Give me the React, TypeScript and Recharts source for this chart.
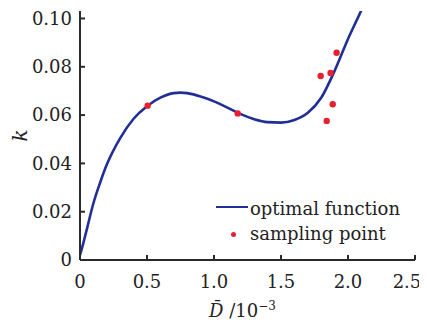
import React from 'react';
import { ComposedChart, Line, Scatter, XAxis, YAxis, Legend } from 'recharts';

const curveX = [0, 0.025, 0.05, 0.1, 0.15, 0.2, 0.3, 0.4, 0.5, 0.6, 0.7, 0.75, 0.8, 0.9, 1.0, 1.1, 1.2, 1.3, 1.4, 1.5, 1.6, 1.7, 1.8, 1.9, 2.0, 2.1, 2.15];
const curveK = [0.002, 0.007, 0.0125, 0.0235, 0.032, 0.0395, 0.0505, 0.0585, 0.0637, 0.0672, 0.0691, 0.0693, 0.0691, 0.0677, 0.0657, 0.0631, 0.0604, 0.0583, 0.0571, 0.0569, 0.058, 0.061, 0.0672, 0.0783, 0.0915, 0.1035, 0.110];

const sampleX = [0.505, 1.177, 1.796, 1.841, 1.87, 1.886, 1.915];
const sampleK = [0.0639, 0.0607, 0.0762, 0.0576, 0.0774, 0.0645, 0.0858];

const xTicks = [0, 0.5, 1.0, 1.5, 2.0, 2.5];
const yTicks = [0, 0.02, 0.04, 0.06, 0.08, 0.10];

const seriesNames = ['optimal function', 'sampling point'];

const curveData = curveX.map((x, i) => ({ x, k: curveK[i] }));
const sampleData = sampleX.map((x, i) => ({ x, k: sampleK[i] }));

const FONT = '"DejaVu Serif", "Liberation Serif", serif';
const AXIS = '#2a2a2a';
const BLUE = '#1f2f96';
const RED = '#e8202e';
const CHART_W = 419;

const XLabel = (props: any) => {
  const vb = props.viewBox || {};
  const cx = vb.x + vb.width / 2 - 5;
  const y = vb.y + 57;
  return (
    <text x={cx} y={y} textAnchor="middle" fontFamily={FONT} fontSize={18} fill="#222">
      <tspan fontStyle="italic">{'D\u0304'}</tspan>
      <tspan> /10</tspan>
      <tspan dy={-7} fontSize={12}>{'\u22123'}</tspan>
    </text>
  );
};

const YLabel = (props: any) => {
  const vb = props.viewBox || {};
  const x = vb.x + 12;
  const y = vb.y + vb.height / 2;
  return (
    <text x={x} y={y} textAnchor="middle" fontFamily={FONT} fontSize={20} fontStyle="italic" fill="#222" transform={`rotate(-90 ${x} ${y})`} dominantBaseline="central">
      k
    </text>
  );
};

const XTick = (props: any) => {
  const { x, y, payload } = props;
  const v = payload.value as number;
  const label = v === 0 ? '0' : v.toFixed(1);
  const tx = Math.min(x, CHART_W - 20);
  return (
    <text x={tx} y={y + 13} textAnchor="middle" fontFamily={FONT} fontSize={18} fill="#222">
      {label}
    </text>
  );
};

const LegendContent = () => (
  <div style={{ fontFamily: FONT, fontSize: 18, color: '#222', lineHeight: '25px', whiteSpace: 'nowrap' }}>
    <div style={{ display: 'flex', alignItems: 'center' }}>
      <div style={{ width: 32, height: 2.5, background: BLUE, marginRight: 2, marginTop: -3 }} />
      <span>{seriesNames[0]}</span>
    </div>
    <div style={{ display: 'flex', alignItems: 'center' }}>
      <div style={{ width: 34, display: 'flex', justifyContent: 'center' }}>
        <div style={{ width: 5, height: 5, borderRadius: 3, background: RED, marginTop: 1 }} />
      </div>
      <span>{seriesNames[1]}</span>
    </div>
  </div>
);

const tickStyle = { fontFamily: FONT, fontSize: 18, fill: '#222' };

export default function App() {
  return (
    <div style={{ fontFamily: FONT }}>
      <ComposedChart width={CHART_W} height={316} margin={{ top: 3, right: 12, left: 0, bottom: 0 }} style={{ fontFamily: FONT }}>
        <XAxis
          dataKey="x"
          type="number"
          domain={[0, 2.5]}
          ticks={xTicks}
          allowDataOverflow
          height={64}
          tickSize={-5}
          tickMargin={20}
          tick={<XTick />}
          axisLine={{ stroke: AXIS, strokeWidth: 2 }}
          tickLine={{ stroke: AXIS, strokeWidth: 2 }}
          label={<XLabel />}
        />
        <XAxis
          xAxisId="top"
          orientation="top"
          type="number"
          domain={[0, 2.5]}
          height={0}
          tick={false}
          tickLine={false}
          axisLine={{ stroke: AXIS, strokeWidth: 2 }}
        />
        <YAxis
          dataKey="k"
          type="number"
          domain={[0, 0.1031]}
          ticks={yTicks}
          allowDataOverflow
          width={72}
          tickSize={-5}
          tickMargin={13}
          tickFormatter={(v: number) => (v === 0 ? '0' : v.toFixed(2))}
          tick={tickStyle}
          axisLine={{ stroke: AXIS, strokeWidth: 2 }}
          tickLine={{ stroke: AXIS, strokeWidth: 2 }}
          label={<YLabel />}
        />
        <YAxis
          yAxisId="right"
          orientation="right"
          type="number"
          domain={[0, 0.1031]}
          width={0}
          tick={false}
          tickLine={false}
          axisLine={{ stroke: AXIS, strokeWidth: 2 }}
        />
        <Line
          data={curveData}
          dataKey="k"
          type="monotone"
          stroke={BLUE}
          strokeWidth={2.6}
          dot={false}
          isAnimationActive={false}
          name={seriesNames[0]}
        />
        <Scatter
          data={sampleData}
          dataKey="k"
          fill={RED}
          shape={(p: any) => <circle cx={p.cx} cy={p.cy} r={3.2} fill={RED} />}
          isAnimationActive={false}
          name={seriesNames[1]}
        />
        <Legend
          layout="vertical"
          align="center"
          verticalAlign="middle"
          content={<LegendContent />}
          wrapperStyle={{ position: 'absolute', left: 208, top: 188, width: 'auto' }}
        />
      </ComposedChart>
    </div>
  );
}
